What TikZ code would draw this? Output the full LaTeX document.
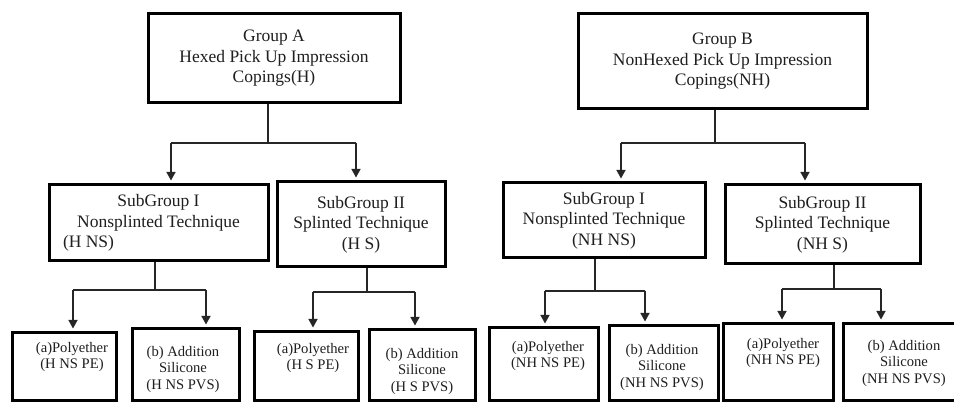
\documentclass[tikz,border=0pt]{standalone}
\usepackage{fontspec}
\setmainfont{Liberation Serif}
\usetikzlibrary{arrows.meta}

\tikzset{
  box/.style={draw=black, line width=3pt, inner sep=0pt, align=center,
    text=black!88, font=\fontsize{17.5}{20.5}\selectfont},
  leaf/.style={draw=black, line width=3pt, inner sep=0pt},
  leaftext/.style={align=center, inner sep=0pt, text=black!88,
    font=\fontsize{14.6}{16.5}\selectfont},
  link/.style={draw=black!85, line width=1.3pt},
  arr/.style={link, -{Triangle[length=8.5pt,width=9pt]}, shorten >=3pt}
}

\begin{document}
\begin{tikzpicture}[x=1pt, y=-1pt]
  \clip (0,0) rectangle (954,403);
  \fill[white] (0,0) rectangle (954,403);

  % ---- Group A branch ----
  \node[box, minimum width=252pt, minimum height=89pt] (gA) at (274,58.5)
    {Group A\\Hexed Pick Up Impression\\Copings(H)};
  \node[box, minimum width=219pt, minimum height=76pt] (sA1) at (158.5,223)
    {SubGroup I\\Nonsplinted Technique\\\makebox[191pt][l]{(H NS)}};
  \node[box, minimum width=168pt, minimum height=85pt] (sA2) at (361,224.5)
    {SubGroup II\\Splinted Technique\\(H S)};

  \node[leaf, minimum width=104pt, minimum height=68pt] (bA1) at (64,367) {};
  \node[leaf, minimum width=107pt, minimum height=72pt] (bA2) at (185.5,365) {};
  \node[leaf, minimum width=104pt, minimum height=69pt] (bA3) at (306,366.5) {};
  \node[leaf, minimum width=106pt, minimum height=71pt] (bA4) at (422,365.5) {};

  \node[leaftext] (tA1) at (72,357) {(a)Polyether\\(H NS PE)};
  \node[leaftext] (tA2) at (183,369) {(b) Addition\\Silicone\\(H NS PVS)};
  \node[leaftext] (tA3) at (313,358) {(a)Polyether\\(H S PE)};
  \node[leaftext] (tA4) at (422,371) {(b) Addition\\Silicone\\(H S PVS)};

  % ---- Group B branch ----
  \node[box, minimum width=289pt, minimum height=95pt] (gB) at (722.5,61.5)
    {Group B\\NonHexed Pick Up Impression\\Copings(NH)};
  \node[box, minimum width=202pt, minimum height=75pt] (sB1) at (604,220.5)
    {SubGroup I\\Nonsplinted Technique\\(NH NS)};
  \node[box, minimum width=195pt, minimum height=79pt] (sB2) at (822.5,224.5)
    {SubGroup II\\Splinted Technique\\(NH S)};

  \node[leaf, minimum width=109pt, minimum height=73pt] (bB1) at (543.5,364.5) {};
  \node[leaf, minimum width=109pt, minimum height=75pt] (bB2) at (663.5,363.5) {};
  \node[leaf, minimum width=110pt, minimum height=77pt] (bB3) at (778,362.5) {};
  \node[leaf, minimum width=124pt, minimum height=77pt] (bB4) at (905,362.5) {};

  \node[leaftext] (tB1) at (548,356) {(a)Polyether\\(NH NS PE)};
  \node[leaftext] (tB2) at (662,367) {(b) Addition\\Silicone\\(NH NS PVS)};
  \node[leaftext] (tB3) at (783,353) {(a)Polyether\\(NH NS PE)};
  \node[leaftext] (tB4) at (904,363) {(b) Addition\\Silicone\\(NH NS PVS)};

  % ---- junction points of the connectors ----
  \coordinate (jA)  at (268,143);
  \coordinate (kA1) at (171,143);
  \coordinate (kA2) at (356,143);
  \coordinate (jA1) at (155,290);
  \coordinate (kA11) at (73,290);
  \coordinate (kA12) at (206,290);
  \coordinate (jA2) at (367,292);
  \coordinate (kA21) at (313,292);
  \coordinate (kA22) at (415,292);

  \coordinate (jB)  at (715,143);
  \coordinate (kB1) at (621,143);
  \coordinate (kB2) at (805,143);
  \coordinate (jB1) at (595,291);
  \coordinate (kB11) at (545,291);
  \coordinate (kB12) at (645,291);
  \coordinate (jB2) at (834,289);
  \coordinate (kB21) at (782,289);
  \coordinate (kB22) at (881,289);

  % ---- connectors ----
  \draw[link] (gA.south -| jA) -- (jA);
  \draw[link] (kA1) -- (kA2);
  \draw[arr] (kA1) -- (kA1 |- sA1.north);
  \draw[arr] (kA2) -- (kA2 |- sA2.north);

  \draw[link] (sA1.south -| jA1) -- (jA1);
  \draw[link] (kA11) -- (kA12);
  \draw[arr] (kA11) -- (kA11 |- bA1.north);
  \draw[arr] (kA12) -- (kA12 |- bA2.north);

  \draw[link] (sA2.south -| jA2) -- (jA2);
  \draw[link] (kA21) -- (kA22);
  \draw[arr] (kA21) -- (kA21 |- bA3.north);
  \draw[arr] (kA22) -- (kA22 |- bA4.north);

  \draw[link] (gB.south -| jB) -- (jB);
  \draw[link] (kB1) -- (kB2);
  \draw[arr] (kB1) -- (kB1 |- sB1.north);
  \draw[arr] (kB2) -- (kB2 |- sB2.north);

  \draw[link] (sB1.south -| jB1) -- (jB1);
  \draw[link] (kB11) -- (kB12);
  \draw[arr] (kB11) -- (kB11 |- bB1.north);
  \draw[arr] (kB12) -- (kB12 |- bB2.north);

  \draw[link] (sB2.south -| jB2) -- (jB2);
  \draw[link] (kB21) -- (kB22);
  \draw[arr] (kB21) -- (kB21 |- bB3.north);
  \draw[arr] (kB22) -- (kB22 |- bB4.north);
\end{tikzpicture}
\end{document}
